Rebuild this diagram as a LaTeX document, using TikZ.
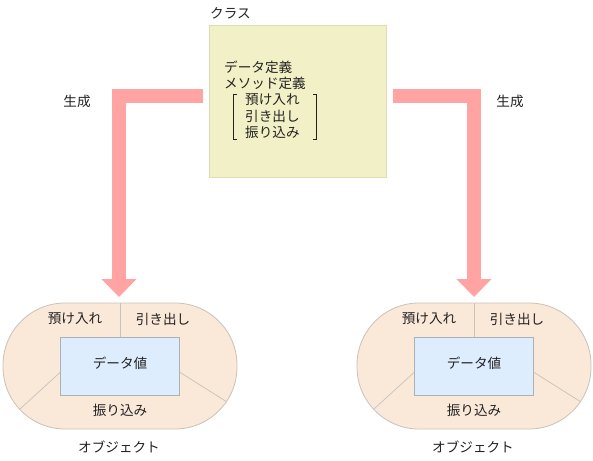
\documentclass[tikz,border=0pt]{standalone}
\usepackage{fontspec}
\setmainfont{Noto Sans CJK JP}
\usetikzlibrary{arrows.meta}
\definecolor{arrowc}{HTML}{FFA3A3}
\definecolor{clsfill}{HTML}{F2F0C6}
\definecolor{clsdraw}{HTML}{DEDCB2}
\definecolor{objfill}{HTML}{FAE8D9}
\definecolor{objdraw}{HTML}{C9C2BB}
\definecolor{valfill}{HTML}{DDEDFD}
\definecolor{valdraw}{HTML}{A9B1B9}
\definecolor{txt}{HTML}{222222}
\begin{document}
\begin{tikzpicture}[x=1pt,y=-1pt,
  lbl/.style={inner sep=0pt, text=txt, font=\fontsize{13.6pt}{16pt}\selectfont},
  clsbox/.style={draw=clsdraw, fill=clsfill, line width=0.8pt, inner sep=0pt, minimum width=177pt, minimum height=152pt},
  objshape/.style={draw=objdraw, fill=objfill, line width=0.8pt, rounded corners=62pt},
  valbox/.style={draw=valdraw, fill=valfill, line width=0.8pt, inner sep=0pt, minimum width=119pt, minimum height=58pt},
  sepline/.style={draw=objdraw, line width=0.7pt},
  genarrow/.style={draw=arrowc, line width=14pt, -{Triangle[width=34pt,length=18pt]}},
  brk/.style={draw=txt, line width=0.8pt}
]
\useasboundingbox (0,0) rectangle (593,460);

% class
\node[lbl, anchor=west] (clslbl) at (210,13) {クラス};
\node[clsbox, anchor=north west] (cls) at (209,25) {};
\node[lbl, anchor=west] (d1) at (224,67) {データ定義};
\node[lbl, anchor=west] (d2) at (224,83) {メソッド定義};
\node[lbl, anchor=west] (m1) at (245,100) {預け入れ};
\node[lbl, anchor=west] (m2) at (245,116) {引き出し};
\node[lbl, anchor=west] (m3) at (245,132) {振り込み};
\draw[brk] (237,94) -- (233.5,94) -- (233.5,139) -- (237,139);
\draw[brk] (313,94) -- (316.5,94) -- (316.5,139) -- (313,139);

% objects
\foreach \cx/\n in {120/1, 474/2} {
  \draw[objshape] (\cx-117,303) rectangle (\cx+117,429);
  \coordinate (objtop\n) at (\cx,303);
  \node[valbox] (val\n) at (\cx,366) {};
  \draw[sepline] (objtop\n) -- (val\n.north);
  \draw[sepline] (\cx-59.5,372) -- (\cx-100,409);
  \draw[sepline] (\cx+59.5,372) -- (\cx+107,402);
  \node[lbl] (vt\n) at (\cx,363) {データ値};
  \node[lbl] (dep\n) at (\cx-45,319) {預け入れ};
  \node[lbl] (wd\n) at (\cx+43,319) {引き出し};
  \node[lbl] (tr\n) at (\cx,410) {振り込み};
  \node[lbl] (ol\n) at (\cx-1,447) {オブジェクト};
}

% arrows
\coordinate (as1) at (203,96);
\coordinate (ae1) at (119,297);
\coordinate (as2) at (393,96);
\coordinate (ae2) at (474,297);
\draw[genarrow] (as1) -| (ae1);
\draw[genarrow] (as2) -| (ae2);
\node[lbl] (g1) at (77,101) {生成};
\node[lbl] (g2) at (510,101) {生成};
\end{tikzpicture}
\end{document}
